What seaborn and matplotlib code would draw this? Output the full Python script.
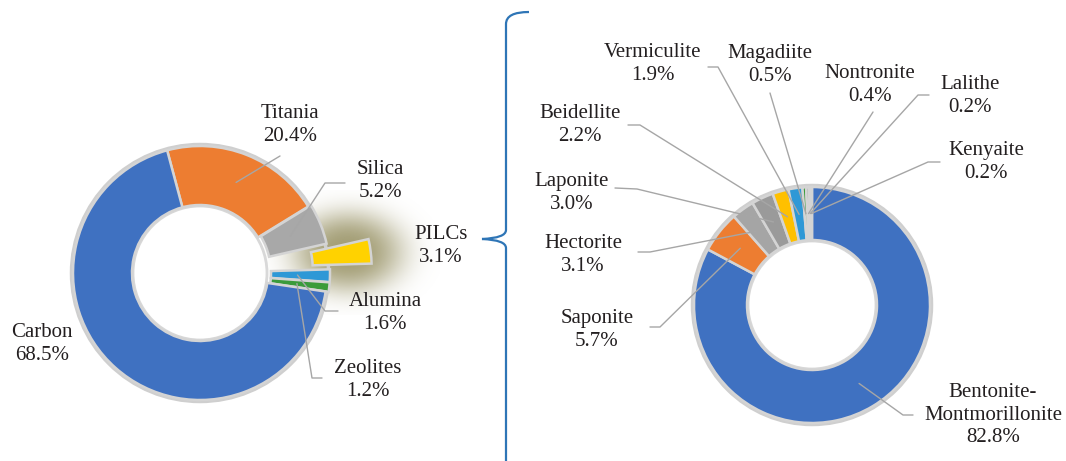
import numpy as np
import matplotlib
matplotlib.use("Agg")
import matplotlib.pyplot as plt
from matplotlib.path import Path
from matplotlib.patches import PathPatch, Circle
import seaborn as sns

# left donut: supports used
support_names = ["Titania", "Silica", "PILCs", "Alumina", "Zeolites", "Carbon"]
support_pct = [20.4, 5.2, 3.1, 1.6, 1.2, 68.5]
support_colors = ["#ed7d31", "#a8a8a8", "#ffd200", "#2e98d6", "#3b9b3b", "#3f71c1"]

# right donut: types of pillared clays
clay_names = ["Bentonite-\nMontmorillonite", "Saponite", "Hectorite", "Laponite",
              "Beidellite", "Vermiculite", "Magadiite", "Nontronite", "Lalithe", "Kenyaite"]
clay_pct = [82.8, 5.7, 3.1, 3.0, 2.2, 1.9, 0.5, 0.4, 0.2, 0.2]
clay_colors = ["#3f71c1", "#ed7d31", "#a5a5a5", "#9a9a9a", "#ffc000",
               "#2e98d6", "#3b9b3b", "#a5a5a5", "#b5b5b5", "#555555"]

W, H = 1066, 461


def Y(y):
    # picture rows run downwards, the axes run upwards
    return H - y


sns.set_theme(style="white")
plt.rcParams["font.family"] = ["Liberation Serif", "DejaVu Serif"]
text_color = "#231f20"
line_color = "#a6a6a6"

fig = plt.figure(figsize=(W / 100, H / 100), dpi=100)
ax = fig.add_axes([0, 0, 1, 1])


def donut(values, colors, center, radius, ring, start, explode):
    # soft grey rim behind the ring
    ax.add_patch(Circle(center, radius + 1.5, fill=False, edgecolor="#cfcfcf", lw=2.5, zorder=1))
    ax.add_patch(Circle(center, radius - ring - 1.0, fill=False, edgecolor="#d8d8d8", lw=2.0, zorder=1))
    wedges, _ = ax.pie(values, colors=colors, startangle=start, counterclock=False,
                       radius=radius, center=center, explode=explode,
                       wedgeprops=dict(width=ring, edgecolor="#d4d4d4", linewidth=1.8))
    return wedges


def anchor(w, center):
    mid = np.deg2rad((w.theta1 + w.theta2) / 2)
    r = w.r - w.width / 2
    return center[0] + r * np.cos(mid), center[1] + r * np.sin(mid)


# glow behind the PILCs slice
gx, gy = np.meshgrid(np.linspace(260, 440, 220), np.linspace(190, 315, 160))
d = np.sqrt(((gx - 348) / 55) ** 2 + ((gy - 252) / 40) ** 2)
glow = np.zeros(gx.shape + (4,))
glow[..., :3] = (0.60, 0.58, 0.40)
glow[..., 3] = 0.9 * np.exp(-d ** 3)
ax.imshow(glow, extent=(260, 440, Y(315), Y(190)), origin="upper", zorder=0,
          interpolation="bilinear")

left_c = (200, Y(273))
left = donut(support_pct, support_colors, left_c, 127, 59, 105,
             [0, 3, 45, 3, 3, 0])
right_c = (812, Y(305))
right = donut(clay_pct, clay_colors, right_c, 118, 53, 90, [0] * len(clay_pct))
for w in left + right:
    w.set_zorder(2)

# label centre and leader bend points, in picture pixels
left_layout = {
    "Titania": ((290, 125), [(280, 156)]),
    "Silica": ((380, 181), [(325, 183), (345, 183)]),
    "PILCs": ((441, 246), None),
    "Alumina": ((385, 313), [(325, 311), (338, 311)]),
    "Zeolites": ((368, 380), [(312, 378), (322, 378)]),
    "Carbon": ((42, 344), None),
}
right_layout = {
    "Bentonite-\nMontmorillonite": ((993, 415), [(903, 415), (913, 415)]),
    "Saponite": ((597, 330), [(660, 327), (650, 327)]),
    "Hectorite": ((583, 255), [(650, 252), (638, 252)]),
    "Laponite": ((572, 193), [(637, 189), (615, 188)]),
    "Beidellite": ((580, 125), [(640, 125), (628, 125)]),
    "Vermiculite": ((653, 64), [(718, 67), (708, 67)]),
    "Magadiite": ((770, 65), [(770, 93)]),
    "Nontronite": ((870, 85), [(873, 112)]),
    "Lalithe": ((970, 96), [(918, 95), (929, 95)]),
    "Kenyaite": ((986, 162), [(928, 162), (940, 162)]),
}

for names, pcts, wedges, c, layout in [
        (support_names, support_pct, left, left_c, left_layout),
        (clay_names, clay_pct, right, right_c, right_layout)]:
    for name, pct, w in zip(names, pcts, wedges):
        (tx, ty), bends = layout[name]
        ax.text(tx, Y(ty), f"{name}\n{pct}%", ha="center", va="center",
                fontsize=15, color=text_color, linespacing=1.25, zorder=5,
                family=["Liberation Serif", "DejaVu Serif"])
        if bends:
            ax0, ay0 = anchor(w, c)
            xs = [ax0] + [p[0] for p in bends]
            ys = [ay0] + [Y(p[1]) for p in bends]
            ax.plot(xs, ys, color=line_color, lw=1.0, zorder=4)

# curly brace tying PILCs to the clay breakdown
verts = [(529, 12), (506, 12), (506, 24), (506, 230), (506, 238), (482, 239),
         (506, 240), (506, 248), (506, 461)]
codes = [Path.MOVETO, Path.CURVE3, Path.CURVE3, Path.LINETO, Path.CURVE3, Path.CURVE3,
         Path.CURVE3, Path.CURVE3, Path.LINETO]
brace = Path([(x, Y(y)) for x, y in verts], codes)
ax.add_patch(PathPatch(brace, fill=False, edgecolor="#2e75b6", lw=1.6, zorder=3))

ax.set_xlim(0, W)
ax.set_ylim(0, H)
ax.set_aspect("equal")
ax.axis("off")

fig.savefig("out.png", dpi=100)
